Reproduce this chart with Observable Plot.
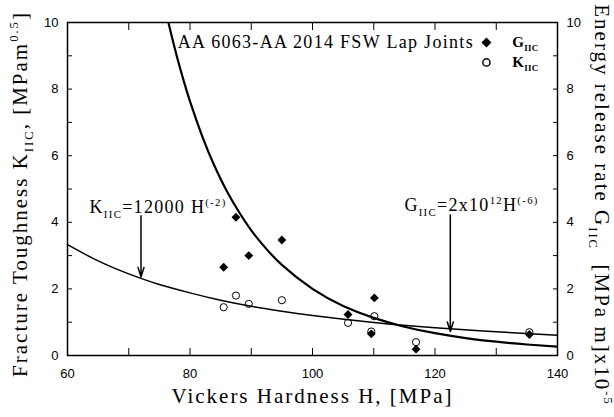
<!DOCTYPE html>
<html><head><meta charset="utf-8">
<script src="https://cdn.jsdelivr.net/npm/d3@7"></script>
<script src="https://cdn.jsdelivr.net/npm/@observablehq/plot@0.6"></script>
<style>body{margin:0;background:#fff}</style>
</head><body><div id="chart"></div>
<script>
// Measured points (Vickers hardness, MPa)
const hardness = [85.5, 87.5, 89.6, 95.0, 105.8, 109.6, 110.1, 116.9, 135.4];
const gIIC     = [2.65, 4.15, 3.00, 3.47, 1.23, 0.65, 1.73, 0.19, 0.63];
const kIIC     = [1.45, 1.80, 1.55, 1.66, 0.98, 0.72, 1.18, 0.40, 0.70];

// Fitted curves
const kFitH = [60, 65, 70, 75, 80, 85, 90, 95, 100, 110, 120, 130, 140];
const kFitV = [3.33, 2.84, 2.45, 2.13, 1.88, 1.66, 1.48, 1.33, 1.20, 0.99, 0.83, 0.71, 0.61];
const gFitH = [76.5, 77, 78, 79, 80, 82, 84, 86, 88, 90, 92, 95, 100, 105, 110, 115, 120, 125, 130, 135, 140];
const gFitV = [9.98, 9.60, 8.88, 8.23, 7.63, 6.58, 5.69, 4.94, 4.31, 3.76, 3.30, 2.72, 2.00, 1.49, 1.13, 0.865, 0.67, 0.524, 0.414, 0.330, 0.266];

// Axis ticks
const xTicks = [60, 80, 100, 120, 140];
const xMinor = [60, 70, 80, 90, 100, 110, 120, 130, 140];
const yTicks = [0, 2, 4, 6, 8, 10];
const yMinor = [0, 1, 2, 3, 4, 5, 6, 7, 8, 9, 10];

// Texts
const xTitle = "Vickers Hardness H, [MPa]";
const yTitle = "Fracture Toughness K_{IIC}, [MPam^{0.5}]";
const y2Title = "Energy release rate G_{IIC}  [MPa m]x10^{-5}";
const seriesTitle = ["AA 6063-AA 2014 FSW Lap Joints"];
const seriesTitleX = [78.0], seriesTitleY = [9.4];
const legendLabels = ["G_{IIC}", "K_{IIC}"];
const legendSymbols = ["diamond2", "circle"];
const legendX = [128.4, 128.4], legendLabelX = [132.6, 132.6], legendY = [9.4, 8.8];
const fitLabels = ["K_{IIC}=12000 H^{(-2)}", "G_{IIC}=2x10^{12}H^{(-6)}"];
const fitLabelX = [63.6, 115.0], fitLabelY = [4.45, 4.5];
const arrowX = [72, 122.5], arrowFrom = [4.2, 4.22], arrowTo = [2.36, 0.72];

const serif = "'Liberation Serif', 'Times New Roman', serif";

const chart = Plot.plot({
  width: 614, height: 417,
  marginLeft: 67, marginRight: 57, marginTop: 22, marginBottom: 62,
  x: {domain: [60, 140]},
  y: {domain: [0, 10]},
  style: {fontFamily: "'Liberation Sans', Arial, sans-serif", fontSize: "13px", color: "#000", background: "#fff"},
  marks: [
    Plot.axisX(xMinor, {anchor: "bottom", tickSize: -7, tickFormat: () => "", label: null}),
    Plot.axisX(xMinor, {anchor: "top", tickSize: -7, tickFormat: () => "", label: null}),
    Plot.axisX(xTicks, {anchor: "bottom", tickSize: 0, tickPadding: 13, label: null}),
    Plot.axisY(yMinor, {anchor: "left", tickSize: -5, tickFormat: () => "", label: null}),
    Plot.axisY(yMinor, {anchor: "right", tickSize: -5, tickFormat: () => "", label: null}),
    Plot.axisY(yTicks, {anchor: "left", tickSize: 0, tickPadding: 9, label: null}),
    Plot.axisY(yTicks, {anchor: "right", tickSize: 0, tickPadding: 9, label: null}),
    Plot.line(kFitH, {x: kFitH, y: kFitV, curve: "natural", stroke: "#000", strokeWidth: 1.5}),
    Plot.line(gFitH, {x: gFitH, y: gFitV, curve: "natural", stroke: "#000", strokeWidth: 2.2, clip: true}),
    Plot.dot(hardness, {x: hardness, y: gIIC, symbol: "diamond2", r: 4, fill: "#000"}),
    Plot.dot(hardness, {x: hardness, y: kIIC, symbol: "circle", r: 3.6, stroke: "#000", strokeWidth: 1, fill: "none"}),
    Plot.arrow(arrowX, {x1: arrowX, x2: arrowX, y1: arrowFrom, y2: arrowTo, stroke: "#000", strokeWidth: 1.5, headLength: 10, headAngle: 35}),
    Plot.text(seriesTitle, {x: seriesTitleX, y: seriesTitleY, text: seriesTitle, textAnchor: "start", fontFamily: serif, fontSize: 18}),
    Plot.dot(legendSymbols, {x: legendX, y: legendY, symbol: legendSymbols, r: 3.6, fill: (d, i) => i === 0 ? "#000" : "none", stroke: "#000"}),
    Plot.text(legendLabels, {x: legendLabelX, y: legendY, text: legendLabels, textAnchor: "start", fontFamily: serif, fontSize: 15, fontWeight: "bold"}),
    Plot.text(fitLabels, {x: fitLabelX, y: fitLabelY, text: fitLabels, textAnchor: "start", fontFamily: serif, fontSize: 18}),
    Plot.text([xTitle], {frameAnchor: "bottom", dy: 41, textAnchor: "middle", lineAnchor: "middle", text: d => d, fontFamily: serif, fontSize: 21}),
    Plot.text([yTitle], {frameAnchor: "left", dx: -47, dy: 5, rotate: -90, textAnchor: "middle", lineAnchor: "middle", text: d => d, fontFamily: serif, fontSize: 21}),
    Plot.text([y2Title], {frameAnchor: "right", dx: 44, dy: 16, rotate: 90, textAnchor: "middle", lineAnchor: "middle", text: d => d, fontFamily: serif, fontSize: 21}),
    Plot.frame({stroke: "#000", strokeWidth: 1.5})
  ]
});
document.getElementById("chart").appendChild(chart);

// Wider letter spacing for the serif texts (reference uses a wide serif face)
d3.select(chart).selectAll("g[aria-label='text']").each(function() {
  const fam = this.getAttribute("font-family") || "";
  if (!/Serif/.test(fam)) return;
  const fs = +this.getAttribute("font-size");
  const bold = this.getAttribute("font-weight") === "bold";
  this.style.letterSpacing = bold ? "0.3px" : (fs >= 20 ? "2px" : "1.3px");
});

// Convert _{...} / ^{...} markup into real subscript / superscript tspans
d3.select(chart).selectAll("text").each(function() {
  const el = this;
  const s = el.textContent;
  if (!/[_^]\{/.test(s)) return;
  const fs = parseFloat(getComputedStyle(el).fontSize) || 16;
  el.textContent = "";
  const re = /_\{([^}]*)\}|\^\{([^}]*)\}|([^_^]+)/g;
  let m, shift = 0;
  while ((m = re.exec(s))) {
    const t = document.createElementNS("http://www.w3.org/2000/svg", "tspan");
    let target = 0;
    if (m[1] !== undefined) { t.textContent = m[1]; t.setAttribute("font-size", fs * 0.6); target = fs * 0.28; }
    else if (m[2] !== undefined) { t.textContent = m[2]; t.setAttribute("font-size", fs * 0.6); target = -fs * 0.42; }
    else { t.textContent = m[3]; }
    t.setAttribute("dy", target - shift);
    shift = target;
    el.appendChild(t);
  }
});
</script>
</body></html>
